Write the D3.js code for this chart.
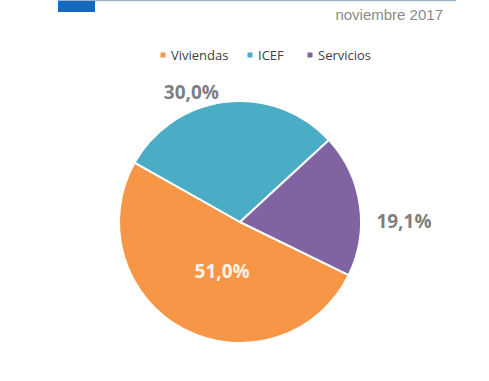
<!DOCTYPE html>
<html>
<head>
<meta charset="utf-8">
<script src="https://cdn.jsdelivr.net/npm/d3@7"></script>
<style>
  body { margin: 0; background: #fff; }
</style>
</head>
<body>
<div id="chart"></div>
<script>
var categories = ["Viviendas", "ICEF", "Servicios"];
var values = [51.0, 30.0, 19.1];
var valueLabels = ["51,0%", "30,0%", "19,1%"];
var colors = ["#f79646", "#4bacc6", "#8064a2"];

var width = 489,
    height = 381;

var cx = 240, cy = 222, radius = 121;

var svg = d3.select("#chart")
    .append("svg")
    .attr("width", width)
    .attr("height", height);

// header bits
svg.append("line")
    .attr("x1", 58).attr("x2", 456)
    .attr("y1", 0.5).attr("y2", 0.5)
    .attr("stroke", "#9fb3c8")
    .attr("stroke-width", 1.5);

svg.append("rect")
    .attr("x", 58).attr("y", 1)
    .attr("width", 37).attr("height", 11)
    .attr("fill", "#1469c0");

svg.append("text")
    .attr("x", 443)
    .attr("y", 20)
    .attr("text-anchor", "end")
    .attr("font-family", "Liberation Sans, Arial, sans-serif")
    .attr("font-size", 15)
    .attr("fill", "#8a8a8a")
    .text("noviembre 2017");

// legend
var legendX = [163, 250, 310];
var legend = svg.append("g")
    .attr("font-family", "Open Sans, sans-serif")
    .attr("font-size", 13)
    .selectAll("g")
    .data(categories)
    .enter().append("g")
    .attr("transform", function(d, i) { return "translate(" + legendX[i] + ",55)"; });

legend.append("rect")
    .attr("x", -2.5).attr("y", -2.5)
    .attr("width", 5).attr("height", 5)
    .attr("fill", function(d, i) { return colors[i]; });

legend.append("text")
    .attr("x", 8)
    .attr("dy", "0.35em")
    .attr("fill", "#404040")
    .text(function(d) { return d; });

// pie
var startA = 116 * Math.PI / 180;
var pie = d3.pie()
    .sort(null)
    .startAngle(startA)
    .endAngle(startA + 2 * Math.PI)
    .value(function(d) { return d; });

var arc = d3.arc().innerRadius(0).outerRadius(radius);

var g = svg.append("g")
    .attr("transform", "translate(" + cx + "," + cy + ")");

var arcs = pie(values);

g.selectAll("path")
    .data(arcs)
    .enter().append("path")
    .attr("d", arc)
    .attr("fill", function(d, i) { return colors[i]; })
    .attr("stroke", "#fff")
    .attr("stroke-width", 2)
    .attr("stroke-linejoin", "round");

// data labels: inside for the big slice, outside for the rest
// (radius factor and angle nudge in degrees, per slice)
var labelR = [0.43, 1.145, 1.355];
var labelNudge = [-7.6, -13.9, 8];

function labelPos(d, i) {
    var a = (d.startAngle + d.endAngle) / 2 + labelNudge[i] * Math.PI / 180;
    var r = radius * labelR[i];
    return [Math.sin(a) * r, -Math.cos(a) * r];
}

g.selectAll(".lbl")
    .data(arcs)
    .enter().append("text")
    .attr("class", "lbl")
    .attr("transform", function(d, i) { return "translate(" + labelPos(d, i) + ")"; })
    .attr("text-anchor", "middle")
    .attr("dy", "0.35em")
    .attr("font-family", "Open Sans, sans-serif")
    .attr("font-weight", "bold")
    .attr("font-size", 19)
    .attr("fill", function(d, i) { return i === 0 ? "#fdf3e6" : "#7f7f7f"; })
    .text(function(d, i) { return valueLabels[i]; });
</script>
</body>
</html>
